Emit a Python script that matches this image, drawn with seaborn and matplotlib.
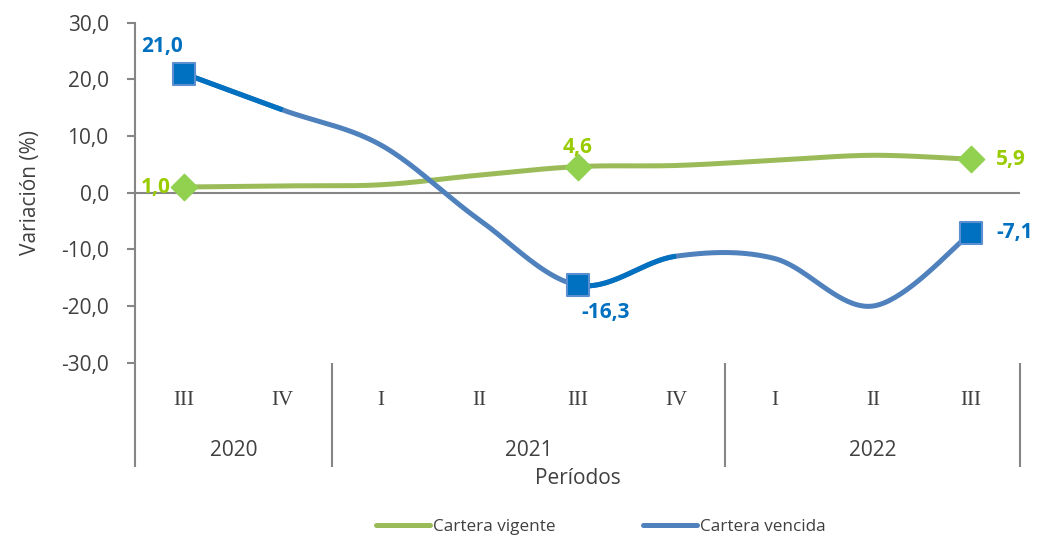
import numpy as np
import pandas as pd
import seaborn as sns
import matplotlib.pyplot as plt
from matplotlib.lines import Line2D

# datos
trimestres = ['III', 'IV', 'I', 'II', 'III', 'IV', 'I', 'II', 'III']
anios = ['2020', '2021', '2022']
anio_pos = [0.5, 3.5, 7.0]
cortes = [-0.5, 1.5, 5.5, 8.5]
vigente = [1.0, 1.2, 1.4, 3.1, 4.6, 4.8, 5.7, 6.6, 5.9]
vencida = [21.0, 14.6, 8.4, -4.8, -16.3, -11.2, -11.6, -20.0, -7.1]
puntos_marcados = [0, 4, 8]

c_vig_linea = '#9BBB59'
c_vig_marca = '#92D050'
c_vig_texto = '#99CC00'
c_ven_linea = '#4F81BD'
c_ven_marca = '#0070C0'
gris = '#868686'
texto = '#404040'


def suavizar(xs, ys, n=40):
    # curva tipo Excel (Catmull-Rom en forma Bezier)
    p = np.column_stack([xs, ys]).astype(float)
    p = np.vstack([p[0], p, p[-1]])
    out = []
    t = np.linspace(0, 1, n)[:, None]
    for i in range(1, len(p) - 2):
        p0, p1, p2, p3 = p[i - 1], p[i], p[i + 1], p[i + 2]
        c1 = p1 + (p2 - p0) / 6
        c2 = p2 - (p3 - p1) / 6
        seg = ((1 - t) ** 3) * p1 + 3 * ((1 - t) ** 2) * t * c1 + 3 * (1 - t) * t ** 2 * c2 + t ** 3 * p2
        out.append(seg if i == 1 else seg[1:])
    return np.vstack(out)


sns.set_style('white')
plt.rcParams['font.family'] = ['Open Sans', 'DejaVu Sans']

fig = plt.figure(figsize=(10.39, 5.39), dpi=100)
ax = fig.add_axes([0.130, 0.327, 0.852, 0.631])

x = np.arange(len(trimestres))
curva_vig = suavizar(x, vigente)
curva_ven = suavizar(x, vencida)
n = 40

sns.lineplot(x=curva_vig[:, 0], y=curva_vig[:, 1], sort=False, color=c_vig_linea,
             linewidth=3.6, ax=ax, solid_capstyle='round')
sns.lineplot(x=curva_ven[:, 0], y=curva_ven[:, 1], sort=False, color=c_ven_linea,
             linewidth=3.6, ax=ax, solid_capstyle='round')
# tramos resaltados tras los puntos etiquetados
for i in [0, 4]:
    tramo = curva_ven[i * (n - 1):(i + 1) * (n - 1) + 1]
    ax.plot(tramo[:, 0], tramo[:, 1], color=c_ven_marca, linewidth=3.6, solid_capstyle='butt')

mx = [x[i] for i in puntos_marcados]
sns.scatterplot(x=mx, y=[vigente[i] for i in puntos_marcados], marker='D', s=180,
                color=c_vig_marca, edgecolor=c_vig_marca, linewidth=1, ax=ax, zorder=5)
sns.scatterplot(x=mx, y=[vencida[i] for i in puntos_marcados], marker='s', s=240,
                color=c_ven_marca, edgecolor='#5B8FD0', linewidth=1.5, ax=ax, zorder=5)

fmt = lambda v: f'{v:.1f}'.replace('.', ',')
etq_vig = [(-10, 0, 'right', 'center'), (0, 6, 'center', 'bottom'), (18, 0, 'left', 'center')]
etq_ven = [(-16, 12, 'center', 'bottom'), (20, -12, 'center', 'top'), (18, 0, 'left', 'center')]
for i, (dx, dy, ha, va) in zip(puntos_marcados, etq_vig):
    ax.annotate(fmt(vigente[i]), (x[i], vigente[i]), xytext=(dx, dy), textcoords='offset points',
                ha=ha, va=va, fontsize=15, fontweight='bold', color=c_vig_texto, zorder=6)
for i, (dx, dy, ha, va) in zip(puntos_marcados, etq_ven):
    ax.annotate(fmt(vencida[i]), (x[i], vencida[i]), xytext=(dx, dy), textcoords='offset points',
                ha=ha, va=va, fontsize=15, fontweight='bold', color=c_ven_marca, zorder=6)

ax.axhline(0, color=gris, linewidth=1.5, zorder=1)
ax.set_xlim(-0.5, 8.5)
ax.set_ylim(-30, 30)
ax.set_yticks(np.arange(-30, 31, 10))
ax.set_yticklabels([fmt(v) for v in np.arange(-30, 31, 10)], fontsize=15, color=texto)
ax.tick_params(axis='y', direction='out', length=6, width=1.5, color=gris, pad=13, left=True)
ax.set_xticks(x)
ax.set_xticklabels(trimestres, fontsize=15, color=texto, family='Liberation Serif')
ax.tick_params(axis='x', length=0, pad=20)
for s in ['top', 'right', 'bottom']:
    ax.spines[s].set_visible(False)
ax.spines['left'].set_color(gris)
ax.spines['left'].set_linewidth(1.5)
ax.set_ylabel('Variación (%)', fontsize=15, color=texto, labelpad=14)

trans = ax.get_xaxis_transform()
for c in cortes:
    ax.plot([c, c], [-0.005 if c == -0.5 else 0, -0.307], transform=trans, color=gris,
            linewidth=1.5, clip_on=False, solid_capstyle='butt')
for a, p in zip(anios, anio_pos):
    ax.text(p, -0.257, a, transform=trans, ha='center', va='center', fontsize=15, color=texto)
ax.text(4.0, -0.339, 'Períodos', transform=trans, ha='center', va='center', fontsize=15, color=texto)

handles = [Line2D([], [], color=c_vig_linea, linewidth=3.6, solid_capstyle='round'),
           Line2D([], [], color=c_ven_linea, linewidth=3.6, solid_capstyle='round')]
fig.legend(handles, ['Cartera vigente', 'Cartera vencida'], loc='center', ncol=2,
           bbox_to_anchor=(0.578, 0.022), frameon=False, fontsize=12.3, handlelength=3.2,
           handletextpad=0.15, columnspacing=5.1, labelcolor=texto)

fig.savefig('out.png', dpi=100, facecolor='white')
